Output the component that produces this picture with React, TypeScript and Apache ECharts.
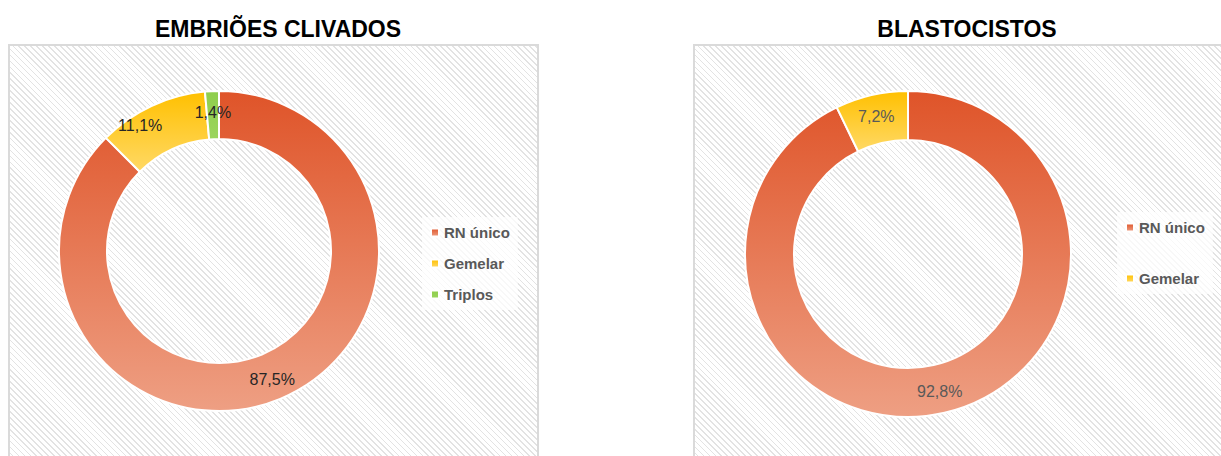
import React, { useEffect, useRef } from "react";
import * as echarts from "echarts";

const titles = ["EMBRIÕES CLIVADOS", "BLASTOCISTOS"];
const clivadosNames = ["RN único", "Gemelar", "Triplos"];
const clivadosValues = [87.5, 11.1, 1.4];
const blastoNames = ["RN único", "Gemelar"];
const blastoValues = [92.8, 7.2];

const grad = (top: string, bottom: string) =>
  new echarts.graphic.LinearGradient(0, 0, 0, 1, [
    { offset: 0, color: top },
    { offset: 1, color: bottom },
  ]);

const colorFor: Record<string, () => any> = {
  "RN único": () => grad("#df5429", "#ee9f83"),
  Gemelar: () => grad("#ffc000", "#ffd966"),
  Triplos: () => grad("#8fce4c", "#9bd55e"),
};

const fmt = (v: number) => v.toFixed(1).replace(".", ",") + "%";

export default function App() {
  const ref = useRef<HTMLDivElement>(null);
  useEffect(() => {
    if (!ref.current) return;
    const chart = echarts.init(ref.current, null, { renderer: "svg" });
    const mkData = (names: string[], vals: number[]) =>
      names.map((n, i) => {
        const item: any = { name: n, value: vals[i], itemStyle: { color: colorFor[n]() } };
        if (n === "Gemelar" && names.length === 3) item.label = { offset: [-20, 0] };
        return item;
      });
    const legendText = { color: "#595959", fontSize: 15, fontWeight: "bold" as const, fontFamily: "Liberation Sans" };
    const titleStyle = { fontFamily: "Liberation Sans", fontWeight: "bold" as const, fontSize: 23, color: "#000" };
    chart.setOption({
      animation: false,
      title: [
        { text: titles[0], left: 273, top: 12, textAlign: "center", textStyle: titleStyle },
        { text: titles[1], left: 962, top: 12, textAlign: "center", textStyle: titleStyle },
      ],
      legend: [
        {
          data: clivadosNames,
          orient: "vertical",
          left: 422,
          top: 217,
          itemWidth: 8,
          itemHeight: 8,
          itemGap: 16,
          icon: "rect",
          padding: [8, 8, 8, 8],
          backgroundColor: "rgba(255,255,255,0.75)",
          textStyle: legendText,
        },
        {
          data: blastoNames,
          orient: "vertical",
          left: 1117,
          top: 212,
          itemWidth: 8,
          itemHeight: 8,
          itemGap: 36,
          icon: "rect",
          padding: [8, 8, 8, 8],
          backgroundColor: "rgba(255,255,255,0.75)",
          textStyle: legendText,
        },
      ],
      series: [
        {
          type: "pie",
          center: [219, 251],
          radius: [112, 160],
          startAngle: 90,
          clockwise: true,
          itemStyle: { borderColor: "#fff", borderWidth: 2 },
          label: {
            position: "inside",
            formatter: (p: any) => fmt(p.value),
            color: "#262626",
            fontSize: 16,
            fontFamily: "Liberation Sans",
          },
          labelLine: { show: false },
          emphasis: { disabled: true },
          data: mkData(clivadosNames, clivadosValues),
        },
        {
          type: "pie",
          center: [908, 254],
          radius: [114, 163],
          startAngle: 90,
          clockwise: true,
          itemStyle: { borderColor: "#fff", borderWidth: 2 },
          label: {
            position: "inside",
            formatter: (p: any) => fmt(p.value),
            color: "#595959",
            fontSize: 16,
            fontFamily: "Liberation Sans",
          },
          labelLine: { show: false },
          emphasis: { disabled: true },
          data: mkData(blastoNames, blastoValues),
        },
      ],
    });
    return () => chart.dispose();
  }, []);

  const hatch: React.CSSProperties = {
    position: "absolute",
    top: 44,
    height: 420,
    border: "2px solid #dadada",
    boxSizing: "border-box",
    background:
      "repeating-linear-gradient(45deg, #ffffff 0px, #ffffff 1.6px, #e3e3e3 1.6px, #e3e3e3 2.8px, #ffffff 2.8px, #ffffff 4.2px)",
  };

  return (
    <div style={{ position: "fixed", left: 0, top: 0, width: 1221, height: 456, background: "#fff", overflow: "hidden" }}>
      <div style={{ ...hatch, left: 8, width: 531 }} />
      <div style={{ ...hatch, left: 693, width: 540 }} />
      <div ref={ref} style={{ position: "absolute", left: 0, top: 0, width: 1221, height: 456 }} />
    </div>
  );
}
